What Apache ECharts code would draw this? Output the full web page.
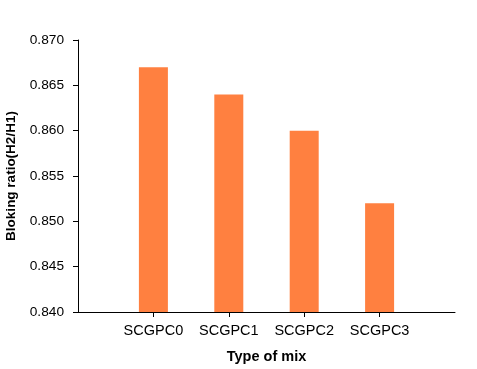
<!DOCTYPE html>
<html><head><meta charset="utf-8">
<script src="https://cdn.jsdelivr.net/npm/echarts@6/dist/echarts.min.js"></script>
<style>html,body{margin:0;padding:0;background:#fff}#c{width:477px;height:369px}</style>
</head><body><div id="c"></div>
<script>
const categories = ['', 'SCGPC0', 'SCGPC1', 'SCGPC2', 'SCGPC3', ''];
const values = [null, 0.867, 0.864, 0.860, 0.852, null];
const yTicks = { min: 0.840, max: 0.870, interval: 0.005 };

const chart = echarts.init(document.getElementById('c'));
chart.setOption({
  animation: false,
  grid: { left: 78, top: 40, right: 22, bottom: 57, containLabel: false, outerBoundsMode: 'none' },
  xAxis: {
    type: 'category', data: categories, boundaryGap: false,
    name: 'Type of mix', nameLocation: 'middle', nameGap: 37,
    nameTextStyle: { fontFamily: 'Liberation Sans', fontSize: 14.5, fontWeight: 'bold', color: '#000' },
    axisLine: { lineStyle: { color: '#000', width: 1 } },
    axisTick: { show: true, length: 5, lineStyle: { color: '#000' },
      interval: (i) => i > 0 && i < categories.length - 1 },
    axisLabel: { fontFamily: 'Liberation Sans', fontSize: 14.5, color: '#000', margin: 11, interval: 0 },
    splitLine: { show: false }
  },
  yAxis: {
    type: 'value', min: yTicks.min, max: yTicks.max, interval: yTicks.interval,
    name: 'Bloking ratio(H2/H1)', nameLocation: 'middle', nameGap: 60, nameRotate: 90,
    nameTextStyle: { fontFamily: 'Liberation Sans', fontSize: 13.5, fontWeight: 'bold', color: '#000' },
    axisLine: { show: true, lineStyle: { color: '#000', width: 1 } },
    axisTick: { show: true, length: 5, lineStyle: { color: '#000' } },
    axisLabel: { fontFamily: 'Liberation Sans', fontSize: 13.7, color: '#000', margin: 14,
      formatter: (v) => v.toFixed(3) },
    splitLine: { show: false }
  },
  series: [{
    type: 'bar', data: values, barWidth: 29,
    itemStyle: { color: '#FF8040' }
  }]
});
</script></body></html>
